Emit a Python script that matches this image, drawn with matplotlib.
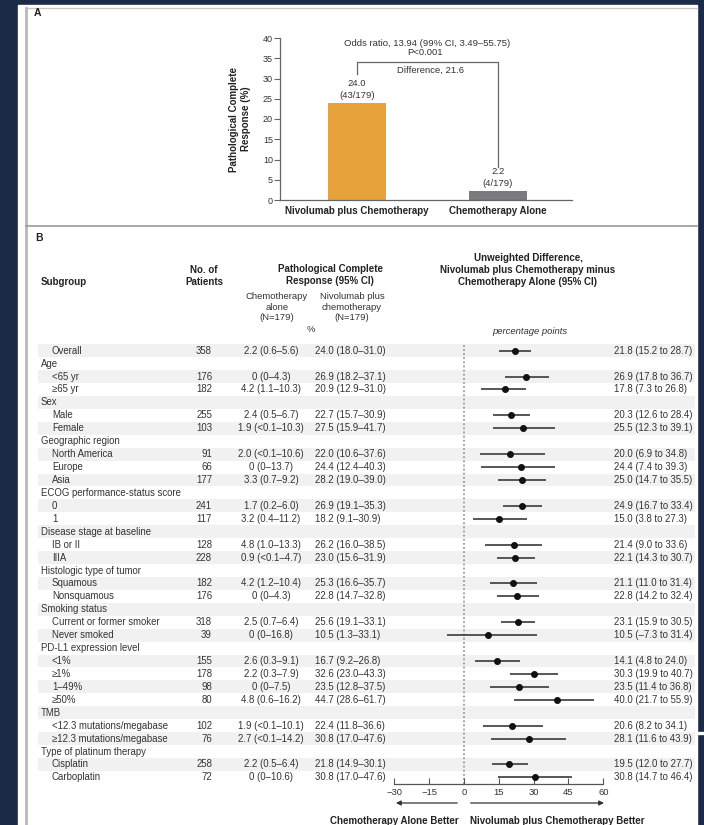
import numpy as np
import matplotlib
matplotlib.use('Agg')
import matplotlib.pyplot as plt
from matplotlib.patches import Rectangle

plt.rcParams['font.family'] = ['Liberation Sans', 'DejaVu Sans']

# --- Panel A data ---
arms = ['Nivolumab plus Chemotherapy', 'Chemotherapy Alone']
pcr_pct = [24.0, 2.2]
pcr_counts = ['(43/179)', '(4/179)']
arm_colors = ['#E8A23B', '#7A7B7E']
odds_text = 'Odds ratio, 13.94 (99% CI, 3.49\u201355.75)'
p_text = 'P<0.001'
diff_text = 'Difference, 21.6'

# --- Panel B data ---
subgroups = ['Overall', 'Age', '<65 yr', '\u226565 yr', 'Sex', 'Male', 'Female',
             'Geographic region', 'North America', 'Europe', 'Asia',
             'ECOG performance-status score', '0', '1',
             'Disease stage at baseline', 'IB or II', 'IIIA',
             'Histologic type of tumor', 'Squamous', 'Nonsquamous',
             'Smoking status', 'Current or former smoker', 'Never smoked',
             'PD-L1 expression level', '<1%', '\u22651%', '1\u201349%', '\u226550%',
             'TMB', '<12.3 mutations/megabase', '\u226512.3 mutations/megabase',
             'Type of platinum therapy', 'Cisplatin', 'Carboplatin']
is_header = [False, True, False, False, True, False, False, True, False, False, False,
             True, False, False, True, False, False, True, False, False, True, False,
             False, True, False, False, False, False, True, False, False, True, False, False]
n_patients = [358, None, 176, 182, None, 255, 103, None, 91, 66, 177, None, 241, 117,
              None, 128, 228, None, 182, 176, None, 318, 39, None, 155, 178, 98, 80,
              None, 102, 76, None, 258, 72]
chemo_pcr = ['2.2 (0.6\u20135.6)', '', '0 (0\u20134.3)', '4.2 (1.1\u201310.3)', '',
             '2.4 (0.5\u20136.7)', '1.9 (<0.1\u201310.3)', '', '2.0 (<0.1\u201310.6)',
             '0 (0\u201313.7)', '3.3 (0.7\u20139.2)', '', '1.7 (0.2\u20136.0)',
             '3.2 (0.4\u201311.2)', '', '4.8 (1.0\u201313.3)', '0.9 (<0.1\u20134.7)', '',
             '4.2 (1.2\u201310.4)', '0 (0\u20134.3)', '', '2.5 (0.7\u20136.4)',
             '0 (0\u201316.8)', '', '2.6 (0.3\u20139.1)', '2.2 (0.3\u20137.9)',
             '0 (0\u20137.5)', '4.8 (0.6\u201316.2)', '', '1.9 (<0.1\u201310.1)',
             '2.7 (<0.1\u201314.2)', '', '2.2 (0.5\u20136.4)', '0 (0\u201310.6)']
nivo_pcr = ['24.0 (18.0\u201331.0)', '', '26.9 (18.2\u201337.1)', '20.9 (12.9\u201331.0)', '',
            '22.7 (15.7\u201330.9)', '27.5 (15.9\u201341.7)', '', '22.0 (10.6\u201337.6)',
            '24.4 (12.4\u201340.3)', '28.2 (19.0\u201339.0)', '', '26.9 (19.1\u201335.3)',
            '18.2 (9.1\u201330.9)', '', '26.2 (16.0\u201338.5)', '23.0 (15.6\u201331.9)', '',
            '25.3 (16.6\u201335.7)', '22.8 (14.7\u201332.8)', '', '25.6 (19.1\u201333.1)',
            '10.5 (1.3\u201333.1)', '', '16.7 (9.2\u201326.8)', '32.6 (23.0\u201343.3)',
            '23.5 (12.8\u201337.5)', '44.7 (28.6\u201361.7)', '', '22.4 (11.8\u201336.6)',
            '30.8 (17.0\u201347.6)', '', '21.8 (14.9\u201330.1)', '30.8 (17.0\u201347.6)']
nan = np.nan
diff_est = [21.8, nan, 26.9, 17.8, nan, 20.3, 25.5, nan, 20.0, 24.4, 25.0, nan, 24.9, 15.0,
            nan, 21.4, 22.1, nan, 21.1, 22.8, nan, 23.1, 10.5, nan, 14.1, 30.3, 23.5, 40.0,
            nan, 20.6, 28.1, nan, 19.5, 30.8]
diff_lo = [15.2, nan, 17.8, 7.3, nan, 12.6, 12.3, nan, 6.9, 7.4, 14.7, nan, 16.7, 3.8,
           nan, 9.0, 14.3, nan, 11.0, 14.2, nan, 15.9, -7.3, nan, 4.8, 19.9, 11.4, 21.7,
           nan, 8.2, 11.6, nan, 12.0, 14.7]
diff_hi = [28.7, nan, 36.7, 26.8, nan, 28.4, 39.1, nan, 34.8, 39.3, 35.5, nan, 33.4, 27.3,
           nan, 33.6, 30.7, nan, 31.4, 32.4, nan, 30.5, 31.4, nan, 24.0, 40.7, 36.8, 55.9,
           nan, 34.1, 43.9, nan, 27.7, 46.4]
diff_ticks = [-30, -15, 0, 15, 30, 45, 60]

W, H = 704, 825
TXT = '#333333'
fig = plt.figure(figsize=(W / 100, H / 100), dpi=100, facecolor='#1b2a47')


def fx(px):
    return px / W


def fy(py):
    return 1 - py / H


# background canvas (pixel coordinates)
bg = fig.add_axes([0, 0, 1, 1])
bg.set_xlim(0, W); bg.set_ylim(H, 0); bg.axis('off')
bg.add_patch(Rectangle((18, 5), 679, 825, color='white', zorder=0))
bg.plot([26, 697], [8, 8], color='#c8c8c8', lw=1)
bg.plot([26, 26], [8, H], color='#b8b8b8', lw=2)
bg.plot([26, 697], [226, 226], color='#9a9a9a', lw=1.2)
bg.add_patch(Rectangle((697, 732), 7, 2, color='white'))
bg.text(34, 13, 'A', fontsize=7.5, fontweight='bold', va='center', color='#222')
bg.text(35, 238, 'B', fontsize=7.5, fontweight='bold', va='center', color='#222')

# --- Panel A ---
axA = fig.add_axes([fx(280), fy(200), fx(572) - fx(280), fy(38) - fy(200)])
xa = np.arange(len(arms))
axA.bar(xa, pcr_pct, width=0.41, color=arm_colors)
axA.set_xlim(-0.546, 1.525); axA.set_ylim(0, 40)
axA.set_yticks(range(0, 41, 5))
for s in ['top', 'right']:
    axA.spines[s].set_visible(False)
for s in ['left', 'bottom']:
    axA.spines[s].set_color('#666666'); axA.spines[s].set_linewidth(0.9)
axA.tick_params(axis='y', length=4, width=0.8, color='#666666', labelsize=6.5,
                labelcolor=TXT, pad=1)
axA.set_xticks(xa)
axA.set_xticklabels(arms, fontsize=7, fontweight='bold', color='#222')
axA.tick_params(axis='x', length=0, pad=4)
axA.set_ylabel('Pathological Complete\nResponse (%)', fontsize=7, fontweight='bold',
               color='#222', labelpad=9, linespacing=1.15)
for xi, v, c in zip(xa, pcr_pct, pcr_counts):
    axA.annotate(c, (xi, v), xytext=(0, 2.2), textcoords='offset points', ha='center',
                 va='bottom', fontsize=6.8, color=TXT)
    axA.annotate(f'{v:.1f}', (xi, v), xytext=(0, 10.8), textcoords='offset points',
                 ha='center', va='bottom', fontsize=6.8, color=TXT)
axA.plot([0, 0, 1, 1], [31.0, 34.1, 34.1, 8.2], color='#666666', lw=0.9)
axA.text(0.5, 38.6, odds_text, ha='center', va='center', fontsize=6.8, color=TXT)
axA.text(0.48, 36.3, p_text, ha='center', va='center', fontsize=6.8, color=TXT)
axA.text(0.52, 31.9, diff_text, ha='center', va='center', fontsize=6.8, color=TXT)

# --- Panel B ---
row0_px, row_h = 350.7, 12.93
top_px, axis_px = 343, 784
ylim = ((axis_px - row0_px) / row_h, (top_px - row0_px) / row_h)
rows = np.arange(len(subgroups))

tab = fig.add_axes([0, fy(axis_px), 1, fy(top_px) - fy(axis_px)])
tab.set_xlim(0, W); tab.set_ylim(*ylim); tab.axis('off')
tab.patch.set_alpha(0)
shaded = rows[rows % 2 == 0]
tab.barh(shaded, 657, left=38, height=1.0, color='#f1f1f1', zorder=0)

fs = 6.9
for i in rows:
    tab.text(41 if is_header[i] else 52, i, subgroups[i], fontsize=fs, va='center',
             color=TXT)
    if n_patients[i] is not None:
        tab.text(212, i, str(n_patients[i]), fontsize=fs, va='center', ha='right', color=TXT)
    tab.text(271, i, chemo_pcr[i], fontsize=fs, va='center', ha='center', color=TXT)
    tab.text(315, i, nivo_pcr[i], fontsize=fs, va='center', ha='left', color=TXT)
    if not np.isnan(diff_est[i]):
        lbl = f'{diff_est[i]:.1f} ({diff_lo[i]:.1f} to {diff_hi[i]:.1f})'.replace('-', '\u2013')
        tab.text(614, i, lbl, fontsize=fs, va='center', ha='left', color=TXT)

# column headers
hb = dict(fontsize=7, fontweight='bold', color='#222', ha='center', va='center',
          linespacing=1.2)
bg.text(41, 282, 'Subgroup', **{**hb, 'ha': 'left'})
bg.text(204, 276, 'No. of\nPatients', **hb)
bg.text(330, 275, 'Pathological Complete\nResponse (95% CI)', **hb)
bg.text(528, 270, 'Unweighted Difference,\nNivolumab plus Chemotherapy minus\n'
        'Chemotherapy Alone (95% CI)', **hb)
hn = dict(fontsize=6.8, color=TXT, ha='center', va='center', linespacing=1.15)
bg.text(277, 307, 'Chemotherapy\nalone\n(N=179)', **hn)
bg.text(352, 307, 'Nivolumab plus\nchemotherapy\n(N=179)', **hn)
bg.text(311, 330, '%', **hn)
bg.text(530, 332, 'percentage points', style='italic', **hn)

# forest plot
axF = fig.add_axes([fx(394.3), fy(axis_px), fx(603.3) - fx(394.3), fy(top_px) - fy(axis_px)])
axF.set_xlim(-30, 60); axF.set_ylim(*ylim)
axF.patch.set_alpha(0)
axF.axvline(0, color='#8a8a8a', ls=(0, (1.2, 1.5)), lw=1.1, zorder=1)
axF.hlines(rows, diff_lo, diff_hi, color='#3a3a3a', lw=1.2, zorder=2)
axF.plot(diff_est, rows, 'o', color='#111111', ms=4, zorder=3)
for s in ['top', 'right', 'left']:
    axF.spines[s].set_visible(False)
axF.spines['bottom'].set_color('#555555'); axF.spines['bottom'].set_linewidth(0.9)
axF.set_yticks([])
axF.set_xticks(diff_ticks)
axF.tick_params(axis='x', direction='in', length=4, width=0.8, color='#555555',
                labelsize=6.8, labelcolor=TXT, pad=3)
ap = dict(arrowstyle='-|>', color='#333333', lw=0.9, mutation_scale=7)
axF.annotate('', xy=(-30.5, H - 803), xytext=(-1.7, H - 803),
             xycoords=('data', 'figure pixels'), arrowprops=ap)
axF.annotate('', xy=(61.5, H - 803), xytext=(1.7, H - 803),
             xycoords=('data', 'figure pixels'), arrowprops=ap)
axF.annotate('Chemotherapy Alone Better', xy=(-2.5, H - 821), xycoords=('data', 'figure pixels'),
             ha='right', va='center', fontsize=7, fontweight='bold', color='#222')
axF.annotate('Nivolumab plus Chemotherapy Better', xy=(2.5, H - 821),
             xycoords=('data', 'figure pixels'), ha='left', va='center', fontsize=7,
             fontweight='bold', color='#222')

fig.savefig('out.png', dpi=100, facecolor=fig.get_facecolor())
